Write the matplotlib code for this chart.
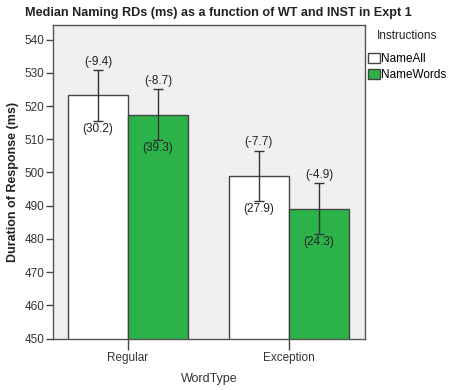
import matplotlib.pyplot as plt
import numpy as np

plt.rcParams['font.family'] = ['Liberation Sans', 'DejaVu Sans']

# Data
word_types = ['Regular', 'Exception']
instructions = ['NameAll', 'NameWords']
means = {'NameAll': [523.3, 499.0], 'NameWords': [517.4, 489.0]}
err_hi = {'NameAll': [530.8, 506.6], 'NameWords': [525.0, 496.7]}
err_lo = {'NameAll': [515.6, 491.4], 'NameWords': [509.8, 481.4]}
top_labels = {'NameAll': ['(-9.4)', '(-7.7)'], 'NameWords': ['(-8.7)', '(-4.9)']}
bottom_labels = {'NameAll': ['(30.2)', '(27.9)'], 'NameWords': ['(39.3)', '(24.3)']}
colors = {'NameAll': 'white', 'NameWords': '#2bb34a'}

fig = plt.figure(figsize=(4.54, 3.9), dpi=100)
ax = fig.add_axes([0.1167, 0.132, 0.687, 0.804])
ax.set_facecolor('#f0f0f0')

x = np.arange(len(word_types))
w = 0.373
edge = '#444444'
for i, inst in enumerate(instructions):
    pos = x + (i - 0.5) * w
    m = np.array(means[inst])
    hi = np.array(err_hi[inst])
    lo = np.array(err_lo[inst])
    ax.bar(pos, m, width=w, bottom=0, color=colors[inst], edgecolor=edge,
           linewidth=1.0, label=inst, zorder=2)
    ax.errorbar(pos, m, yerr=[m - lo, hi - m], fmt='none', ecolor='#333333',
                elinewidth=1.0, capsize=3.6, capthick=1.0, zorder=3)
    for p, h, l, tl, bl in zip(pos, hi, lo, top_labels[inst], bottom_labels[inst]):
        ax.annotate(tl, (p, h), xytext=(0, 1.5), textcoords='offset points',
                    ha='center', va='bottom', fontsize=8.5, color='#222222')
        ax.annotate(bl, (p, l), xytext=(0, -1.5), textcoords='offset points',
                    ha='center', va='top', fontsize=8.5, color='#222222')

ax.set_xlim(-0.466, 1.472)
ax.set_ylim(450, 544.4)
ax.set_yticks(np.arange(450, 541, 10))
ax.set_xticks(x)
ax.set_xticklabels(word_types)
ax.tick_params(axis='y', length=5, width=1, color='#444444', labelsize=8.5,
               labelcolor='#333333', pad=1)
ax.tick_params(axis='x', length=8, width=1, color='#444444', labelsize=8.5,
               labelcolor='#333333', pad=2)
for s in ax.spines.values():
    s.set_color('#555555')
    s.set_linewidth(1.0)

ax.set_xlabel('WordType', fontsize=9, color='#333333', labelpad=6)
ax.set_ylabel('Duration of Response (ms)', fontsize=9, fontweight='bold',
              color='#222222', labelpad=4)
fig.text(0.055, 0.966, 'Median Naming RDs (ms) as a function of WT and INST in Expt 1',
         fontsize=9.1, fontweight='bold', color='#222222', va='center')

leg = ax.legend(title='Instructions', loc='upper left', bbox_to_anchor=(0.995, 1.0),
                frameon=False, fontsize=8.5, title_fontsize=8.5,
                handlelength=1.0, handleheight=1.0, handletextpad=0.1,
                borderaxespad=0.2, labelspacing=0.3, borderpad=0.2)
leg.get_title().set_color('#222222')
leg._legend_box.sep = 8

fig.savefig('out.png', dpi=100, facecolor='white')
